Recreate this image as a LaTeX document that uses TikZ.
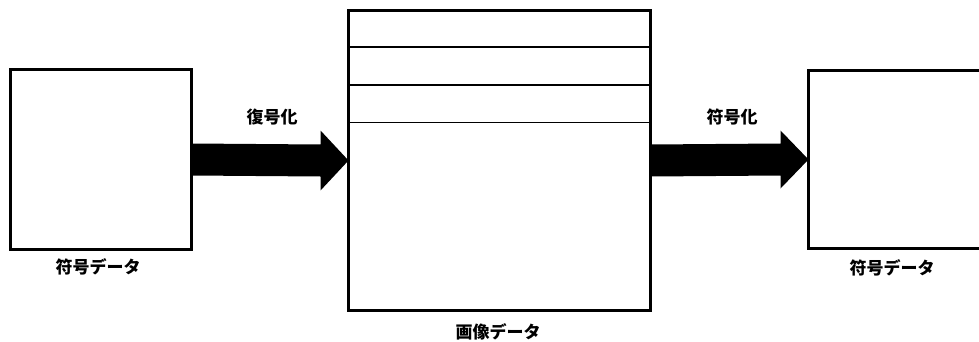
\documentclass[tikz,border=0pt]{standalone}
\usepackage{fontspec}
\newfontfamily\cjk{Noto Sans CJK JP}
\usetikzlibrary{calc}
\tikzset{
  box/.style={draw=black, line width=3pt, fill=white, inner sep=0pt, outer sep=0pt},
  openbox/.style={inner sep=0pt, outer sep=0pt},
  boxline/.style={draw=black, line width=3pt},
  sepline/.style={draw=black, line width=1.8pt},
  bigarrow/.style={fill=black},
  lbl/.style={font=\cjk\bfseries\fontsize{17pt}{17pt}\selectfont, inner sep=0pt}
}
\begin{document}
\begin{tikzpicture}[x=1pt,y=1pt]
\useasboundingbox (0,0) rectangle (979,341);
\clip (0,0) rectangle (979,341);
\fill[white] (0,0) rectangle (979,341);
\node[box, minimum width=181pt, minimum height=180pt] (L) at (101,181.5) {};
\node[box, minimum width=302pt, minimum height=300pt] (M) at (499.5,180.5) {};
\node[openbox, minimum width=182pt, minimum height=178pt] (R) at (899.5,181.5) {};
\draw[boxline] (R.north east) -- (R.north west) -- (R.south west) -- (R.south east);
\draw[sepline] (M.west |- 0,294) -- (M.east |- 0,294);
\draw[sepline] (M.west |- 0,256) -- (M.east |- 0,256);
\draw[sepline] (M.west |- 0,218.5) -- (M.east |- 0,218.5);
% arrows
\fill[bigarrow] ($(L.east)+(0,16)$) -- ($(M.west)+(-28,16)$) -- ($(M.west)+(-28,30)$) -- (M.west)
  -- ($(M.west)+(-28,-30)$) -- ($(M.west)+(-28,-16)$) -- ($(L.east)+(0,-16)$) -- cycle;
\fill[bigarrow] ($(M.east)+(0,16)$) -- ($(R.west)+(-28,16)$) -- ($(R.west)+(-28,29)$) -- (R.west)
  -- ($(R.west)+(-28,-29)$) -- ($(R.west)+(-28,-16)$) -- ($(M.east)+(0,-16)$) -- cycle;
% labels
\node[lbl] (dec) at (272,224) {復号化};
\node[lbl] (enc) at (732,224) {符号化};
\node[lbl] (lL) at (98,74) {符号データ};
\node[lbl] (lR) at (892,73) {符号データ};
\node[lbl] (lM) at (498,9) {画像データ};
\end{tikzpicture}
\end{document}
